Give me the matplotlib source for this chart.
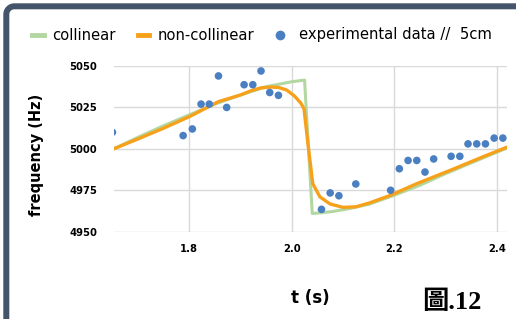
import matplotlib
matplotlib.use("Agg")
import numpy as np
import matplotlib.pyplot as plt
from matplotlib.lines import Line2D

# ---- data ----
coll_t = [1.6525, 1.70, 1.75, 1.80, 1.85, 1.90, 1.95, 2.00, 2.025, 2.040,
          2.06, 2.08, 2.11, 2.15, 2.20, 2.25, 2.30, 2.35, 2.42]
coll_f = [5000, 5007, 5014, 5020.5, 5027, 5032.5, 5037.5, 5040.5, 5041.5, 4961,
          4961.5, 4962.2, 4963.8, 4966.5, 4972, 4978, 4985, 4991.5, 5000.5]

nonc_t = [1.6525, 1.70, 1.75, 1.80, 1.857, 1.90, 1.92, 1.94, 1.96, 1.975, 1.99,
          2.005, 2.018, 2.024, 2.032, 2.041, 2.055, 2.075, 2.10, 2.125, 2.153,
          2.193, 2.244, 2.309, 2.374, 2.42]
nonc_f = [5000, 5006, 5012.5, 5019.4, 5028.5, 5032.5, 5035, 5036.8, 5037.3, 5037,
          5035.5, 5032, 5027.5, 5024, 5002, 4979, 4971, 4966.7, 4964.7, 4965,
          4967.5, 4972, 4979, 4987, 4995.3, 5001]

exp_t = [1.650, 1.788, 1.806, 1.823, 1.839, 1.857, 1.873, 1.907, 1.924, 1.940,
         1.957, 1.974, 2.058, 2.075, 2.092, 2.125, 2.193, 2.210, 2.227, 2.244,
         2.260, 2.277, 2.311, 2.328, 2.344, 2.361, 2.378, 2.395, 2.412]
exp_f = [5010, 5008, 5012, 5027, 5027, 5044, 5025, 5038.7, 5038.7, 5047,
         5034, 5032.3, 4963.5, 4973.4, 4971.7, 4978.8, 4975, 4988, 4993, 4993,
         4986, 4993.9, 4995.5, 4995.5, 5003, 5003, 5003, 5006.5, 5006.5]

xticks = [1.8, 2.0, 2.2, 2.4]
xtick_labels = ["1.8", "2.0", "2.2", "2.4"]
yticks = [4950, 4975, 5000, 5025, 5050]

labels = ["collinear", "non-collinear", "experimental data //  5cm"]
c_green = "#b3d7a0"
c_orange = "#f7a11a"
c_blue = "#4a7fc1"

plt.rcParams["font.family"] = ["DejaVu Sans"]

W, H = 516, 319
fig = plt.figure(figsize=(W / 100, H / 100), dpi=100)
fig.patch.set_facecolor("white")

L, R, T, B = 113.7, 506.7, 66, 231.7
ax = fig.add_axes([L / W, 1 - B / H, (R - L) / W, (B - T) / H])
ax.set_xlim(1.6525, 2.4195)
ax.set_ylim(4950, 5050)

ax.plot(coll_t, coll_f, color=c_green, lw=2.2, zorder=3)
ax.plot(nonc_t, nonc_f, color=c_orange, lw=2.4, zorder=4)
ax.scatter(exp_t, exp_f, s=30, color=c_blue, edgecolors="none", zorder=5)

ax.set_xticks(xticks)
ax.set_xticklabels(xtick_labels)
ax.set_yticks(yticks)
for s in ax.spines.values():
    s.set_visible(False)
ax.grid(True, color="#d9d9d9", lw=1.0, zorder=0)
ax.tick_params(axis="both", length=0, labelsize=7.2)
ax.tick_params(axis="y", pad=12)
ax.tick_params(axis="x", pad=9)
for lab in ax.get_xticklabels() + ax.get_yticklabels():
    lab.set_fontweight("bold")

ax.set_ylabel("frequency (Hz)", fontsize=10.5, fontweight="bold")
ax.yaxis.set_label_coords((44 - L) / (R - L), (B - 155) / (B - T))
ax.set_xlabel("t (s)", fontsize=12, fontweight="bold")
ax.xaxis.set_label_coords((310 - L) / (R - L), -(289 - B) / (B - T))

# legend (manual layout)
ly = 1 - 35 / H
fig.add_artist(Line2D([32 / W, 44 / W], [ly, ly], color=c_green, lw=3.5,
                      transform=fig.transFigure))
fig.text(52 / W, ly, labels[0], fontsize=10.6, va="center", ha="left")
fig.add_artist(Line2D([138 / W, 149 / W], [ly, ly], color=c_orange, lw=3.5,
                      transform=fig.transFigure))
fig.text(158 / W, ly, labels[1], fontsize=10.6, va="center", ha="left")
fig.add_artist(Line2D([280 / W], [ly], marker="o", markersize=7, color=c_blue,
                      markeredgewidth=0, linestyle="none",
                      transform=fig.transFigure))
fig.text(299 / W, ly, labels[2], fontsize=10.6, va="center", ha="left")

# figure caption
fig.text(452 / W, 1 - 302 / H, "圖.12", fontsize=19, fontweight="bold",
         family=["Liberation Serif", "Noto Sans CJK TC"],
         ha="center", va="center")

# dark frame (top and left), open path with a rounded corner (pixel coords)
e = 6.3
r = 8.0
ang = np.linspace(np.pi, np.pi / 2, 12)
cx, cy = e + r, H - e - r
fx = np.concatenate([[e], cx + r * np.cos(ang), [W]])
fy = np.concatenate([[0], cy + r * np.sin(ang), [H - e]])
fig.add_artist(Line2D(fx / W, fy / H, color="#44546a", lw=6 * 72 / 100,
                      solid_capstyle="butt", solid_joinstyle="round",
                      transform=fig.transFigure))

fig.savefig("out.png", dpi=100)
